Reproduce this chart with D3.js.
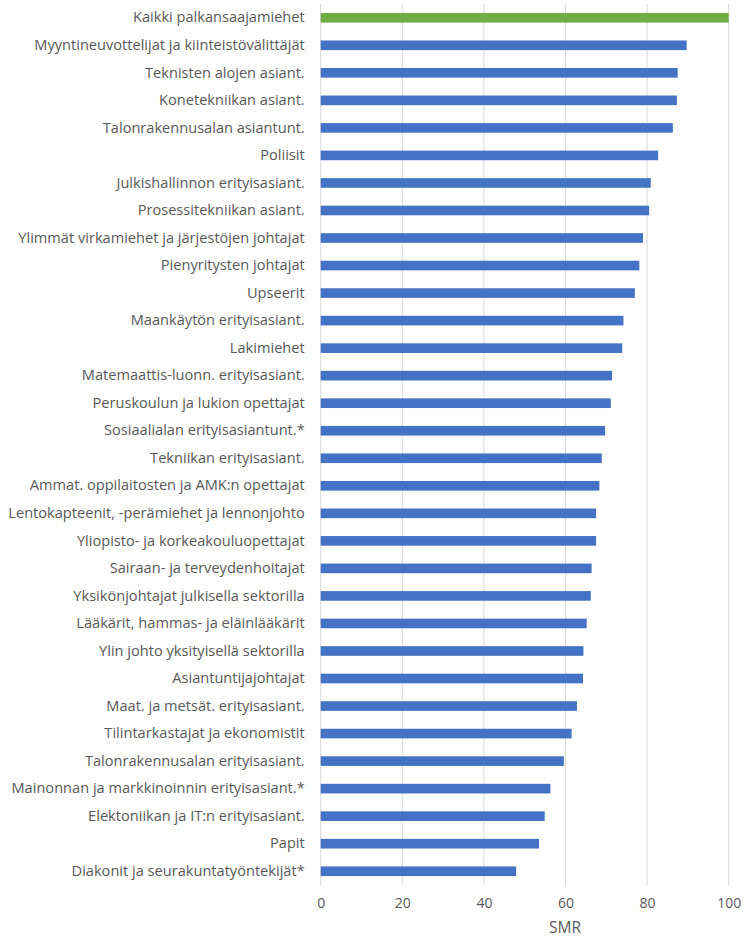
<!DOCTYPE html>
<html><head><meta charset="utf-8">
<script src="https://cdn.jsdelivr.net/npm/d3@7"></script>
<style>body{margin:0;background:#fff}svg{display:block}text{font-family:"Open Sans",sans-serif}</style>
</head><body><svg id="c" width="751" height="938"></svg>
<script>
const categories = [
"Kaikki palkansaajamiehet",
"Myyntineuvottelijat ja kiinteistövälittäjät",
"Teknisten alojen asiant.",
"Konetekniikan asiant.",
"Talonrakennusalan asiantunt.",
"Poliisit",
"Julkishallinnon erityisasiant.",
"Prosessitekniikan asiant.",
"Ylimmät virkamiehet ja järjestöjen johtajat",
"Pienyritysten johtajat",
"Upseerit",
"Maankäytön erityisasiant.",
"Lakimiehet",
"Matemaattis-luonn. erityisasiant.",
"Peruskoulun ja lukion opettajat",
"Sosiaalialan erityisasiantunt.*",
"Tekniikan erityisasiant.",
"Ammat. oppilaitosten ja AMK:n opettajat",
"Lentokapteenit, -perämiehet ja lennonjohto",
"Yliopisto- ja korkeakouluopettajat",
"Sairaan- ja terveydenhoitajat",
"Yksikönjohtajat julkisella sektorilla",
"Lääkärit, hammas- ja eläinlääkärit",
"Ylin johto yksityisellä sektorilla",
"Asiantuntijajohtajat",
"Maat. ja metsät. erityisasiant.",
"Tilintarkastajat ja ekonomistit",
"Talonrakennusalan erityisasiant.",
"Mainonnan ja markkinoinnin erityisasiant.*",
"Elektoniikan ja IT:n erityisasiant.",
"Papit",
"Diakonit ja seurakuntatyöntekijät*"
];
const smr = [100,89.7,87.5,87.3,86.3,82.7,80.9,80.5,79.0,78.1,77.0,74.2,73.9,71.4,71.1,69.7,68.9,68.3,67.5,67.5,66.4,66.2,65.2,64.4,64.3,62.8,61.5,59.6,56.3,54.9,53.5,47.9];
const xTicks = [0,20,40,60,80,100];
const axisTitle = "SMR";

const svg = d3.select("#c");
const x = d3.scaleLinear().domain([0,100]).range([320.7,728.7]);
const y = d3.scaleBand().domain(categories).range([4,885]).paddingInner(0.65).paddingOuter(0.325);

svg.append("g").selectAll("line").data(xTicks).join("line")
  .attr("x1",d=>x(d)).attr("x2",d=>x(d)).attr("y1",4).attr("y2",885)
  .attr("stroke","#d9d9d9").attr("stroke-width",1);

svg.append("g").selectAll("rect").data(categories).join("rect")
  .attr("x",x(0)).attr("y",d=>y(d)).attr("height",y.bandwidth())
  .attr("width",(d,i)=>x(smr[i])-x(0))
  .attr("fill",(d,i)=>i===0?"#70AD47":"#4472C4");

const ya = d3.axisLeft(y).tickSize(0).tickPadding(16);
const gy = svg.append("g").attr("transform",`translate(${x(0)},0)`).call(ya);
gy.select(".domain").remove();
gy.selectAll("text").attr("fill","#595959").style("font-size","14.6px").style("font-family","'Open Sans'");

const xa = d3.axisBottom(x).tickValues(xTicks).tickSize(0).tickPadding(13);
const gx = svg.append("g").attr("transform","translate(0,885)").call(xa);
gx.select(".domain").remove();
gx.selectAll("text").attr("fill","#595959").style("font-size","14px").style("font-family","'Open Sans'");

svg.append("text").attr("x",565).attr("y",933).attr("text-anchor","middle")
  .attr("fill","#595959").style("font-size","15.5px").text(axisTitle);
</script></body></html>
